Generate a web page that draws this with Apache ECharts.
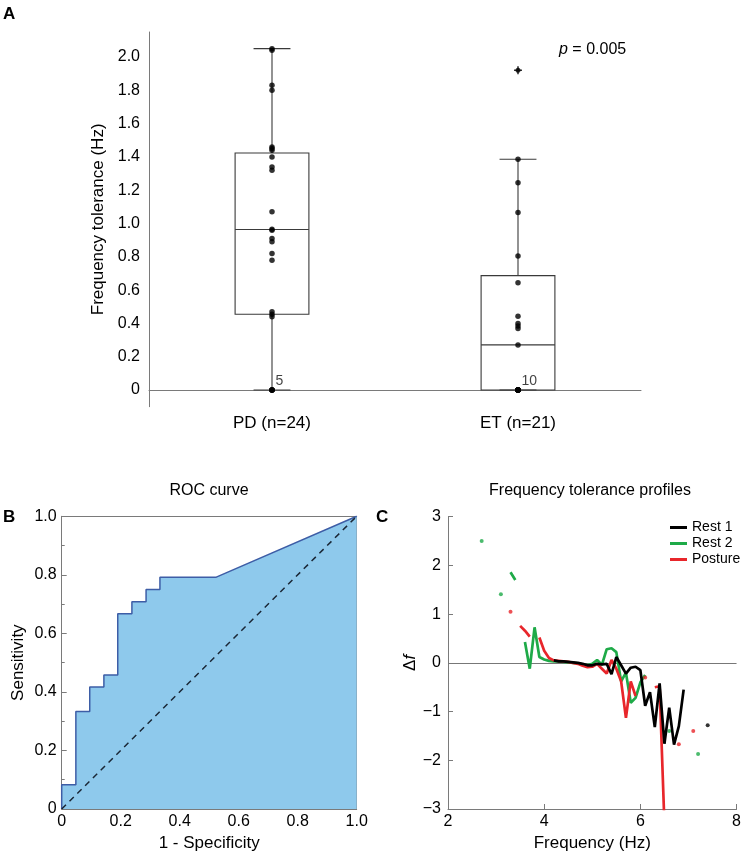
<!DOCTYPE html>
<html><head><meta charset="utf-8">
<script src="https://cdn.jsdelivr.net/npm/echarts@6/dist/echarts.min.js"></script>
<style>html,body{margin:0;padding:0;background:#fff}#c{width:744px;height:853px}</style>
</head><body><div id="c"></div>
<script>
// ---------- Panel A data ----------
const groups = ['PD (n=24)', 'ET (n=21)'];
const pdValues = [2.05, 2.04, 1.83, 1.80, 1.46, 1.45, 1.44, 1.40, 1.34, 1.32, 1.07, 0.965, 0.96, 0.91, 0.89, 0.82, 0.78, 0.47, 0.455, 0.44, 0, 0, 0, 0, 0];
const etValues = [1.386, 1.245, 1.066, 0.805, 0.645, 0.443, 0.40, 0.385, 0.37, 0.271, 0, 0, 0, 0, 0, 0, 0, 0, 0, 0];
const etOutliers = [1.92];
// [lower whisker, Q1, median, Q3, upper whisker]
const boxStats = [[0, 0.455, 0.964, 1.423, 2.05], [0, 0, 0.271, 0.687, 1.386]];
const zeroCounts = [5, 10];
const pText = '0.005';

// ---------- Panel B data ----------
const rocFpr = [0, 0, 0.048, 0.048, 0.095, 0.095, 0.143, 0.143, 0.190, 0.190, 0.238, 0.238, 0.286, 0.286, 0.333, 0.333, 0.524, 1];
const rocTpr = [0, 0.083, 0.083, 0.333, 0.333, 0.417, 0.417, 0.458, 0.458, 0.667, 0.667, 0.708, 0.708, 0.750, 0.750, 0.792, 0.792, 1];
const chanceFpr = [0, 1];
const chanceTpr = [0, 1];

// ---------- Panel C data ----------
const rest1Freq = [4.2, 4.3, 4.4, 4.5, 4.6, 4.7, 4.8, 4.9, 5.0, 5.1, 5.2, 5.3, 5.4, 5.5, 5.6, 5.7, 5.8, 5.9, 6.0, 6.1, 6.2, 6.3, 6.4, 6.5, 6.6, 6.7, 6.8, 6.9, 7.0, 7.4];
const rest1Df   = [0.05, 0.03, 0.03, 0.02, 0.01, 0.0, -0.02, -0.05, -0.05, -0.02, -0.03, -0.02, -0.23, 0.12, -0.05, -0.22, -0.10, -0.08, -0.15, -0.88, -0.60, -1.32, -0.42, -1.66, -0.92, -1.68, -1.30, -0.55, null, -1.28];
const rest2Freq = [2.7, 2.8, 3.1, 3.2, 3.3, 3.4, 3.5, 3.6, 3.7, 3.8, 3.9, 4.0, 4.1, 4.2, 4.3, 4.4, 4.5, 4.6, 4.7, 4.8, 4.9, 5.0, 5.1, 5.2, 5.3, 5.4, 5.5, 5.6, 5.7, 5.8, 5.9, 6.0, 6.1, 6.2, 6.6, 6.7, 7.2];
const rest2Df   = [2.50, null, 1.41, null, 1.86, 1.70, null, 0.43, -0.12, 0.73, 0.12, 0.07, 0.04, 0.03, 0.03, 0.02, 0.01, 0.0, -0.01, -0.03, -0.05, -0.02, 0.06, -0.04, 0.28, 0.30, 0.22, -0.38, -0.20, -0.82, -0.72, -0.40, -0.25, null, -1.40, null, -1.87];
const postureFreq = [3.3, 3.4, 3.5, 3.6, 3.7, 3.8, 3.9, 4.0, 4.1, 4.2, 4.3, 4.4, 4.5, 4.6, 4.7, 4.8, 4.9, 5.0, 5.1, 5.2, 5.3, 5.4, 5.5, 5.6, 5.7, 5.8, 5.9, 6.0, 6.1, 6.2, 6.3, 6.4, 6.5, 6.6, 6.8, 6.9, 7.1];
const postureDf   = [1.05, null, 0.76, 0.66, 0.54, null, 0.52, 0.25, 0.10, 0.05, 0.04, 0.03, 0.02, 0.0, -0.02, -0.06, -0.09, -0.08, -0.02, -0.12, -0.22, 0.06, -0.12, -0.38, -1.13, -0.38, -0.68, null, -0.30, null, -0.50, -0.48, -3.30, null, -1.67, null, -1.40];

// ---------- helpers ----------
const FONT = 'Liberation Sans, Arial, Helvetica, sans-serif';
const AX = '#7a7a7a';
function pairs(xs, ys) { return xs.map((x, i) => [x, ys[i] == null ? '-' : ys[i]]); }
function isolated(xs, ys) {
  const out = [];
  for (let i = 0; i < ys.length; i++) {
    if (ys[i] == null) continue;
    const prevNull = i === 0 || ys[i - 1] == null;
    const nextNull = i === ys.length - 1 || ys[i + 1] == null;
    if (prevNull && nextNull) out.push([xs[i], ys[i]]);
  }
  return out;
}
const minus = v => String(v).replace('-', '\u2212');

const chart = echarts.init(document.getElementById('c'), null, { renderer: 'canvas' });

const option = {
  animation: false,
  backgroundColor: '#fff',
  textStyle: { fontFamily: FONT, color: '#000' },
  grid: [
    { left: 149, top: 32, width: 492, height: 374.7 },
    { left: 61.7, top: 516.3, width: 295, height: 293 },
    { left: 448, top: 516.7, width: 292.3, height: 292.6 }
  ],
  xAxis: [
    { gridIndex: 0, type: 'category', data: groups, boundaryGap: true,
      axisLine: { lineStyle: { color: AX, width: 1 } },
      axisTick: { inside: true, alignWithLabel: true, length: 5, lineStyle: { color: AX } },
      axisLabel: { fontSize: 17, color: '#000', margin: 8, fontFamily: FONT } },
    { gridIndex: 1, type: 'value', min: 0, max: 1, interval: 0.2,
      name: '1 - Specificity', nameLocation: 'middle', nameGap: 26,
      nameTextStyle: { fontSize: 17, color: '#000', fontFamily: FONT },
      axisLine: { onZero: false, lineStyle: { color: AX } },
      axisTick: { inside: true, length: 5, lineStyle: { color: AX } },
      minorTick: { show: true, splitNumber: 2, length: 3, lineStyle: { color: AX } },
      splitLine: { show: false },
      axisLabel: { fontSize: 16, color: '#000', margin: 5, fontFamily: FONT,
        formatter: v => v === 0 ? '0' : v.toFixed(1) } },
    { gridIndex: 1, type: 'value', position: 'top', min: 0, max: 1,
      axisLine: { onZero: false, lineStyle: { color: AX } },
      axisTick: { show: false }, axisLabel: { show: false }, splitLine: { show: false } },
    { gridIndex: 2, type: 'value', min: 2, max: 8, interval: 2,
      name: 'Frequency (Hz)', nameLocation: 'middle', nameGap: 26,
      nameTextStyle: { fontSize: 17, color: '#000', fontFamily: FONT },
      axisLine: { onZero: false, lineStyle: { color: AX } },
      axisTick: { inside: true, length: 5, lineStyle: { color: AX } },
      splitLine: { show: false },
      axisLabel: { fontSize: 16, color: '#000', margin: 5, fontFamily: FONT } }
  ],
  yAxis: [
    { gridIndex: 0, type: 'value', min: -0.1, max: 2.15, interval: 0.1,
      name: 'Frequency tolerance (Hz)', nameLocation: 'middle', nameGap: 31,
      nameTextStyle: { fontSize: 17, color: '#000', fontFamily: FONT },
      axisLine: { show: true, onZero: false, lineStyle: { color: AX } },
      axisTick: { show: false }, splitLine: { show: false },
      axisLabel: { fontSize: 16, color: '#000', margin: 9, fontFamily: FONT,
        formatter: v => {
          const k = v * 5;
          if (Math.abs(k - Math.round(k)) > 1e-6 || v < -0.01 || v > 2.01) return '';
          return Math.abs(v) < 1e-9 ? '0' : v.toFixed(1);
        } } },
    { gridIndex: 1, type: 'value', min: 0, max: 1, interval: 0.2,
      name: 'Sensitivity', nameLocation: 'middle', nameGap: 35,
      nameTextStyle: { fontSize: 17, color: '#000', fontFamily: FONT },
      axisLine: { show: true, onZero: false, lineStyle: { color: AX } },
      axisTick: { inside: true, length: 5, lineStyle: { color: AX } },
      minorTick: { show: true, splitNumber: 2, length: 3, lineStyle: { color: AX } },
      splitLine: { show: false },
      axisLabel: { fontSize: 16, color: '#000', margin: 5, fontFamily: FONT,
        formatter: v => v === 0 ? '0' : v.toFixed(1) } },
    { gridIndex: 1, type: 'value', position: 'right', min: 0, max: 1,
      axisLine: { show: true, onZero: false, lineStyle: { color: AX } },
      axisTick: { show: false }, axisLabel: { show: false }, splitLine: { show: false } },
    { gridIndex: 2, type: 'value', min: -3, max: 3, interval: 1,
      name: '{d|\u0394}{f|f}', nameLocation: 'middle', nameGap: 20,
      nameTextStyle: { fontSize: 17, color: '#000', fontFamily: FONT,
        rich: { d: { fontSize: 17, fontFamily: FONT }, f: { fontSize: 17, fontStyle: 'italic', fontFamily: FONT } } },
      axisLine: { show: true, onZero: false, lineStyle: { color: AX } },
      axisTick: { inside: true, length: 5, lineStyle: { color: AX } },
      splitLine: { show: false },
      axisLabel: { fontSize: 16, color: '#000', margin: 7, fontFamily: FONT, formatter: v => minus(v) } }
  ],
  legend: {
    data: ['Rest 1', 'Rest 2', 'Posture'],
    orient: 'vertical', left: 670, top: 520, icon: 'rect',
    itemWidth: 17, itemHeight: 3, itemGap: 1, padding: 0,
    textStyle: { fontSize: 14, color: '#000', fontFamily: FONT, lineHeight: 15 }
  },
  graphic: [
    { type: 'text', x: 3, y: 6, style: { text: 'A', font: 'bold 17px ' + FONT, fill: '#000' } },
    { type: 'text', x: 3, y: 509, style: { text: 'B', font: 'bold 17px ' + FONT, fill: '#000' } },
    { type: 'text', x: 376, y: 509, style: { text: 'C', font: 'bold 17px ' + FONT, fill: '#000' } },
    { type: 'text', x: 209, y: 491, style: { text: 'ROC curve', font: '16px ' + FONT, fill: '#000', align: 'center', verticalAlign: 'middle' } },
    { type: 'text', x: 590, y: 491, style: { text: 'Frequency tolerance profiles', font: '16px ' + FONT, fill: '#000', align: 'center', verticalAlign: 'middle' } },
    { type: 'text', x: 559, y: 50, style: {
        text: '{i|p} = ' + pText, verticalAlign: 'middle', fill: '#000', font: '16px ' + FONT,
        rich: { i: { fontStyle: 'italic', fontSize: 16, fontFamily: FONT } } } }
  ],
  series: [
    // Panel A boxes
    { type: 'custom', xAxisIndex: 0, yAxisIndex: 0, z: 2,
      data: boxStats.map((s, i) => [i].concat(s)),
      encode: { x: 0, y: [1, 2, 3, 4, 5] },
      renderItem: (params, api) => {
        const i = api.value(0);
        const lo = api.coord([i, api.value(1)]);
        const q1 = api.coord([i, api.value(2)]);
        const md = api.coord([i, api.value(3)]);
        const q3 = api.coord([i, api.value(4)]);
        const hi = api.coord([i, api.value(5)]);
        const bw = api.size([1, 0])[0];
        const hb = bw * 0.15, hc = bw * 0.075, x = lo[0];
        const st = { stroke: '#3a3a3a', lineWidth: 1.1, fill: null };
        return { type: 'group', children: [
          { type: 'line', shape: { x1: x, y1: hi[1], x2: x, y2: q3[1] }, style: st },
          { type: 'line', shape: { x1: x, y1: q1[1], x2: x, y2: lo[1] }, style: st },
          { type: 'line', shape: { x1: x - hc, y1: hi[1], x2: x + hc, y2: hi[1] }, style: st },
          { type: 'line', shape: { x1: x - hc, y1: lo[1], x2: x + hc, y2: lo[1] }, style: st },
          { type: 'rect', shape: { x: x - hb, y: q3[1], width: 2 * hb, height: q1[1] - q3[1] }, style: st },
          { type: 'line', shape: { x1: x - hb, y1: md[1], x2: x + hb, y2: md[1] }, style: st }
        ] };
      } },
    { type: 'scatter', name: 'ptsA', xAxisIndex: 0, yAxisIndex: 0, z: 3,
      symbolSize: 5.5, itemStyle: { color: '#000' },
      data: pdValues.map(v => [0, v]).concat(etValues.map(v => [1, v])) },
    { type: 'scatter', name: 'outA', xAxisIndex: 0, yAxisIndex: 0, z: 3,
      symbolSize: 5, itemStyle: { color: '#000' },
      data: etOutliers.map(v => [1, v]) },
    { type: 'scatter', name: 'outAplus', xAxisIndex: 0, yAxisIndex: 0, z: 3,
      symbol: 'path://M4,0L6,0L6,4L10,4L10,6L6,6L6,10L4,10L4,6L0,6L0,4L4,4Z', symbolSize: 8,
      itemStyle: { color: '#000' },
      data: etOutliers.map(v => [1, v]) },
    { type: 'scatter', name: 'countsA', xAxisIndex: 0, yAxisIndex: 0, z: 4,
      symbolSize: 1, itemStyle: { color: 'rgba(0,0,0,0)' },
      data: zeroCounts.map((c, i) => [i, 0]),
      label: { show: true, position: 'right', distance: 3, offset: [0, -9], fontSize: 14, color: '#111', fontFamily: FONT,
        formatter: p => String(zeroCounts[p.dataIndex]) } },

    // Panel B ROC
    { type: 'line', name: 'roc', xAxisIndex: 1, yAxisIndex: 1, z: 2,
      data: rocFpr.map((x, i) => [x, rocTpr[i]]), showSymbol: false, symbol: 'none',
      lineStyle: { color: '#3d5da6', width: 1.5 },
      areaStyle: { color: '#8ec9ec', opacity: 1 } },
    { type: 'line', name: 'chance', xAxisIndex: 1, yAxisIndex: 1, z: 3,
      data: chanceFpr.map((x, i) => [x, chanceTpr[i]]), symbol: 'none',
      lineStyle: { color: '#1a2736', width: 1.5, type: [6, 5] } },

    // Panel C
    { type: 'line', name: 'Rest 2', xAxisIndex: 3, yAxisIndex: 3, z: 3,
      data: pairs(rest2Freq, rest2Df), symbol: 'none', connectNulls: false, clip: true,
      itemStyle: { color: '#1eaa48' }, lineStyle: { color: '#1eaa48', width: 2.7 },
      markLine: { silent: true, symbol: 'none', label: { show: false }, z: 1,
        lineStyle: { color: '#777', width: 1, type: 'solid' }, data: [{ yAxis: 0 }] } },
    { type: 'line', name: 'Posture', xAxisIndex: 3, yAxisIndex: 3, z: 4,
      data: pairs(postureFreq, postureDf), symbol: 'none', connectNulls: false, clip: true,
      itemStyle: { color: '#e8262b' }, lineStyle: { color: '#e8262b', width: 2.7 } },
    { type: 'line', name: 'Rest 1', xAxisIndex: 3, yAxisIndex: 3, z: 5,
      data: pairs(rest1Freq, rest1Df), symbol: 'none', connectNulls: false, clip: true,
      itemStyle: { color: '#000' }, lineStyle: { color: '#000', width: 2.7 } },
    { type: 'scatter', name: 'r2dots', xAxisIndex: 3, yAxisIndex: 3, z: 3,
      symbolSize: 4, itemStyle: { color: '#1eaa48' }, data: isolated(rest2Freq, rest2Df) },
    { type: 'scatter', name: 'pdots', xAxisIndex: 3, yAxisIndex: 3, z: 4,
      symbolSize: 4, itemStyle: { color: '#e8262b' }, data: isolated(postureFreq, postureDf) },
    { type: 'scatter', name: 'r1dots', xAxisIndex: 3, yAxisIndex: 3, z: 5,
      symbolSize: 4, itemStyle: { color: '#000' }, data: isolated(rest1Freq, rest1Df) }
  ]
};
chart.setOption(option);
</script>
</body></html>
